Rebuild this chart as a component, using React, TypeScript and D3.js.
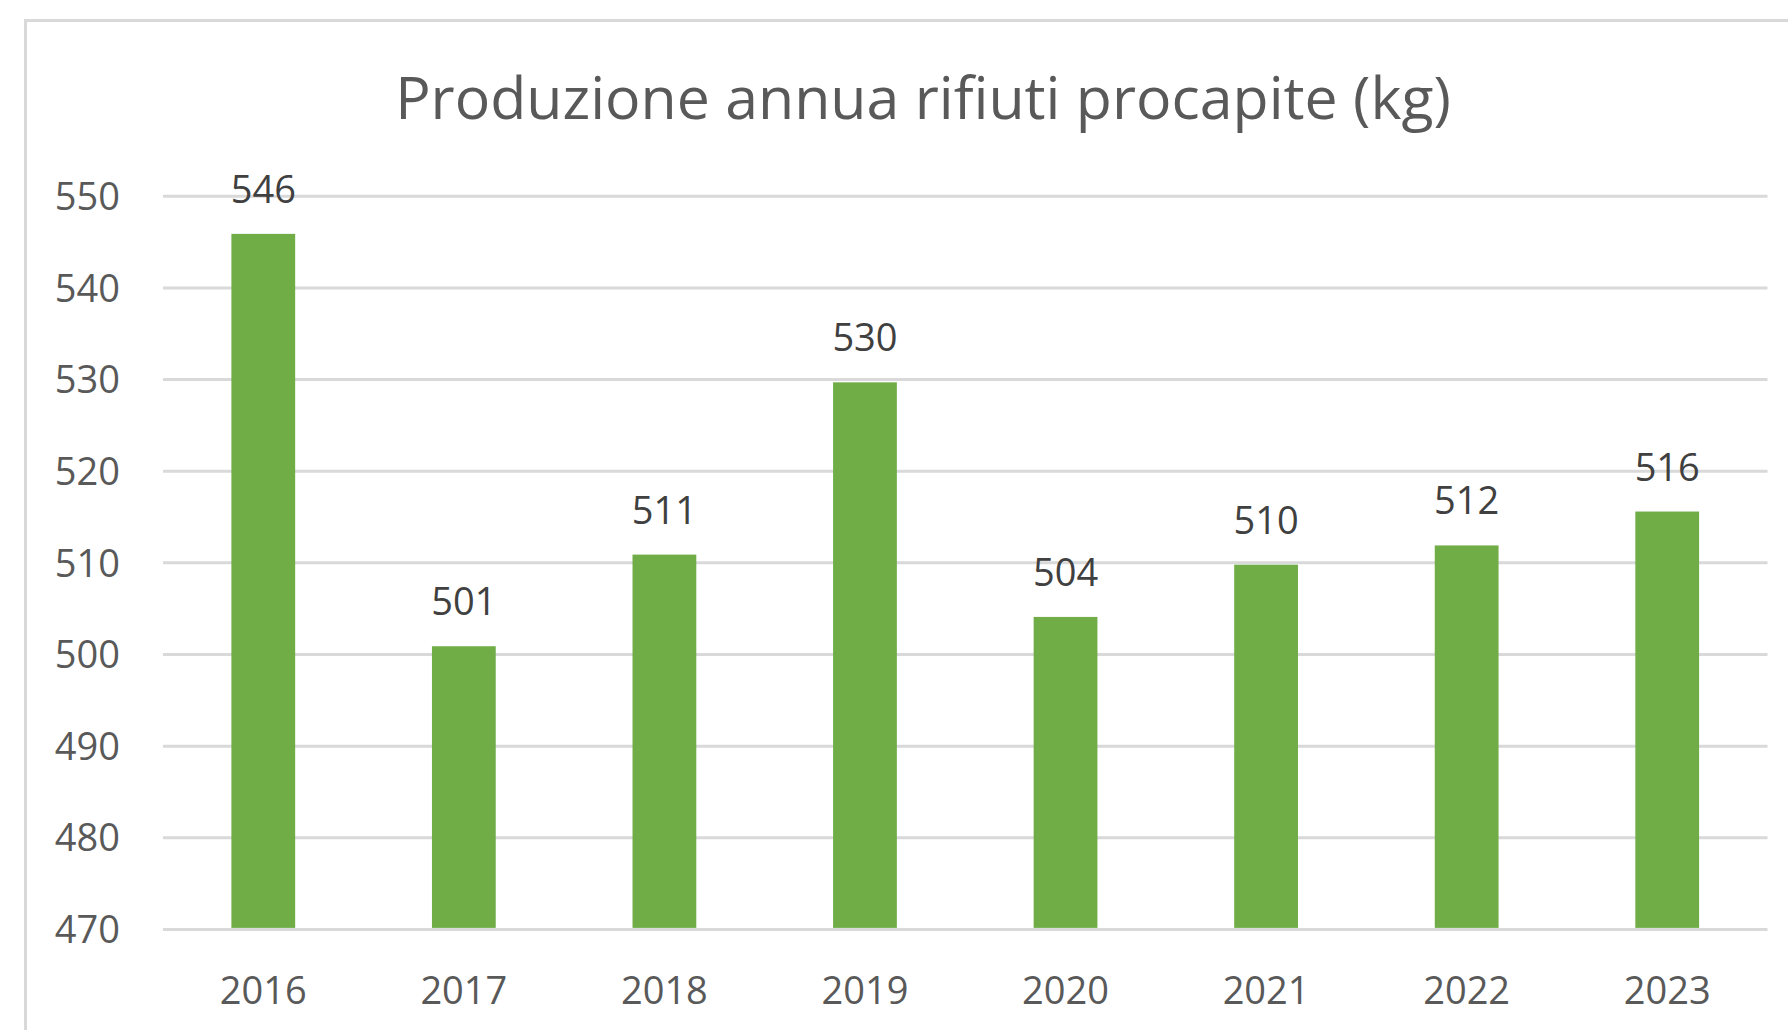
import { useEffect, useRef } from "react";
import * as d3 from "d3";

const years = ["2016", "2017", "2018", "2019", "2020", "2021", "2022", "2023"];
const kgPerCapita = [545.9, 500.9, 510.9, 529.7, 504.1, 509.8, 511.9, 515.6];
const yTicks = [470, 480, 490, 500, 510, 520, 530, 540, 550];
const title = "Produzione annua rifiuti procapite (kg)";

export default function App() {
  const ref = useRef<SVGSVGElement>(null);

  useEffect(() => {
    const width = 1788;
    const height = 1030;
    const svg = d3.select(ref.current);
    svg.selectAll("*").remove();
    svg.attr("width", width).attr("height", height);

    const font = "'Open Sans', 'Noto Sans', sans-serif";

    // chart area border (runs off the right and bottom edge)
    svg.append("rect")
      .attr("x", 25.5).attr("y", 20.5)
      .attr("width", 1840).attr("height", 1100)
      .attr("fill", "#fff")
      .attr("stroke", "#d9d9d9")
      .attr("stroke-width", 3);

    const plot = { left: 163, right: 1767.5, top: 196.3, bottom: 929.4 };

    const x = d3.scaleBand()
      .domain(years)
      .range([plot.left, plot.right])
      .paddingInner(0.682)
      .paddingOuter(0.341);

    const y = d3.scaleLinear()
      .domain([470, 550])
      .range([plot.bottom, plot.top]);

    // gridlines
    svg.append("g")
      .selectAll("line")
      .data(yTicks)
      .enter()
      .append("line")
      .attr("x1", plot.left).attr("x2", plot.right)
      .attr("y1", (d) => y(d)).attr("y2", (d) => y(d))
      .attr("stroke", "#d9d9d9")
      .attr("stroke-width", 3);

    // y tick labels
    svg.append("g")
      .selectAll("text")
      .data(yTicks)
      .enter()
      .append("text")
      .attr("x", 120)
      .attr("y", (d) => y(d))
      .attr("dy", "0.36em")
      .attr("text-anchor", "end")
      .attr("font-family", font)
      .attr("font-size", 38)
      .attr("fill", "#595959")
      .text((d) => d);

    // bars
    svg.append("g")
      .selectAll("rect")
      .data(kgPerCapita)
      .enter()
      .append("rect")
      .attr("x", (_, i) => x(years[i])!)
      .attr("y", (d) => y(d))
      .attr("width", x.bandwidth())
      .attr("height", (d) => plot.bottom - 1.5 - y(d))
      .attr("fill", "#70ad47");

    // data labels
    svg.append("g")
      .selectAll("text")
      .data(kgPerCapita)
      .enter()
      .append("text")
      .attr("x", (_, i) => x(years[i])! + x.bandwidth() / 2)
      .attr("y", (d) => y(d) - 31)
      .attr("text-anchor", "middle")
      .attr("font-family", font)
      .attr("font-size", 38)
      .attr("fill", "#404040")
      .text((d) => d3.format(".0f")(d));

    // x labels
    svg.append("g")
      .selectAll("text")
      .data(years)
      .enter()
      .append("text")
      .attr("x", (d) => x(d)! + x.bandwidth() / 2)
      .attr("y", 1004)
      .attr("text-anchor", "middle")
      .attr("font-family", font)
      .attr("font-size", 38)
      .attr("fill", "#595959")
      .text((d) => d);

    svg.append("text")
      .attr("x", 923)
      .attr("y", 119)
      .attr("text-anchor", "middle")
      .attr("font-family", font)
      .attr("font-size", 59)
      .attr("fill", "#595959")
      .text(title);
  }, []);

  return (
    <svg ref={ref} style={{ position: "absolute", left: 0, top: 0, display: "block" }}></svg>
  );
}
